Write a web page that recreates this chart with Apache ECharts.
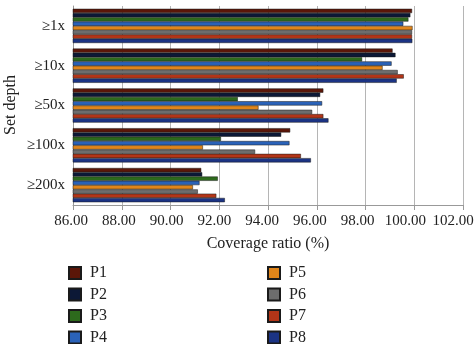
<!DOCTYPE html>
<html>
<head>
<meta charset="utf-8">
<script src="https://cdn.jsdelivr.net/npm/echarts@6/dist/echarts.min.js"></script>
<style>
  html, body { margin: 0; padding: 0; background: #fff; }
  #chart { width: 475px; height: 344px; }
</style>
</head>
<body>
<div id="chart"></div>
<script>
// set depths, top to bottom
const depths = ['≥1x', '≥10x', '≥50x', '≥100x', '≥200x'];
const xTicks = [86, 88, 90, 92, 94, 96, 98, 100, 102];

// coverage ratio (%) per sample, in depth order
const P1 = [99.91, 99.11, 96.27, 94.91, 91.26];
const P2 = [99.84, 99.23, 96.14, 94.54, 91.30];
const P3 = [99.76, 97.86, 92.76, 92.07, 91.94];
const P4 = [99.55, 99.07, 96.22, 94.88, 91.19];
const P5 = [99.93, 98.70, 93.61, 91.33, 90.92];
const P6 = [99.91, 99.32, 95.81, 93.47, 91.12];
const P7 = [99.91, 99.57, 96.27, 95.35, 91.88];
const P8 = [99.92, 99.28, 96.48, 95.76, 92.23];

const names = ['P1', 'P2', 'P3', 'P4', 'P5', 'P6', 'P7', 'P8'];
const values = [P1, P2, P3, P4, P5, P6, P7, P8];
const colors = ['#5b1608', '#0c1836', '#2d6a1c', '#2a62b8', '#e0851a', '#6d6d6d', '#b23518', '#1b3384'];

const font = 'Liberation Serif';

// tick labels sit a little left of their gridlines, more so toward the right
const tickRich = {};
xTicks.forEach((t, i) => {
    tickRich['t' + i] = { fontSize: 15, color: '#222', fontFamily: font, padding: [0, 4 + i * 2, 0, 0] };
});

const chart = echarts.init(document.getElementById('chart'));

const legendBase = {
    orient: 'vertical',
    top: 260, height: 90,
    itemWidth: 12, itemHeight: 12, itemGap: 5.5,
    icon: 'rect',
    textStyle: { fontFamily: font, fontSize: 16, color: '#222', padding: [0, 0, 0, 4] }
};

chart.setOption({
    animation: false,
    textStyle: { fontFamily: font },
    grid: { left: 73, right: 12, top: 6, bottom: 139, outerBoundsMode: 'none', containLabel: false },
    // y axis title, placed by hand (the axis name kept getting pushed to the edge)
    graphic: [{
        type: 'text',
        x: 11, y: 105,
        rotation: Math.PI / 2,
        style: {
            text: 'Set depth',
            align: 'center',
            verticalAlign: 'middle',
            fontFamily: font,
            fontSize: 16,
            fill: '#222'
        }
    }],
    legend: [
        Object.assign({ data: names.slice(0, 4), left: 63 }, legendBase),
        Object.assign({ data: names.slice(4), left: 262 }, legendBase)
    ],
    xAxis: {
        type: 'value',
        min: xTicks[0], max: xTicks[xTicks.length - 1], interval: 2,
        name: 'Coverage ratio (%)',
        nameLocation: 'middle',
        nameGap: 31,
        nameTextStyle: { fontSize: 16, color: '#222' },
        axisLine: { show: true, lineStyle: { color: '#999' } },
        axisTick: { show: true, lineStyle: { color: '#999' } },
        axisLabel: {
            margin: 9,
            formatter: v => '{t' + xTicks.indexOf(v) + '|' + v.toFixed(2) + '}',
            rich: tickRich
        },
        splitLine: { lineStyle: { color: '#b5b5b5' } }
    },
    yAxis: {
        type: 'category',
        data: depths,
        inverse: true,
        axisLine: { lineStyle: { color: '#999' } },
        axisTick: { show: false },
        axisLabel: { fontSize: 15, color: '#222', margin: 8 }
    },
    series: names.map((n, i) => ({
        name: n,
        type: 'bar',
        data: values[i],
        barGap: '0%',
        barCategoryGap: '14%',
        itemStyle: { color: colors[i], borderColor: '#1a1a1a', borderWidth: 0.5 }
    }))
});
</script>
</body>
</html>
